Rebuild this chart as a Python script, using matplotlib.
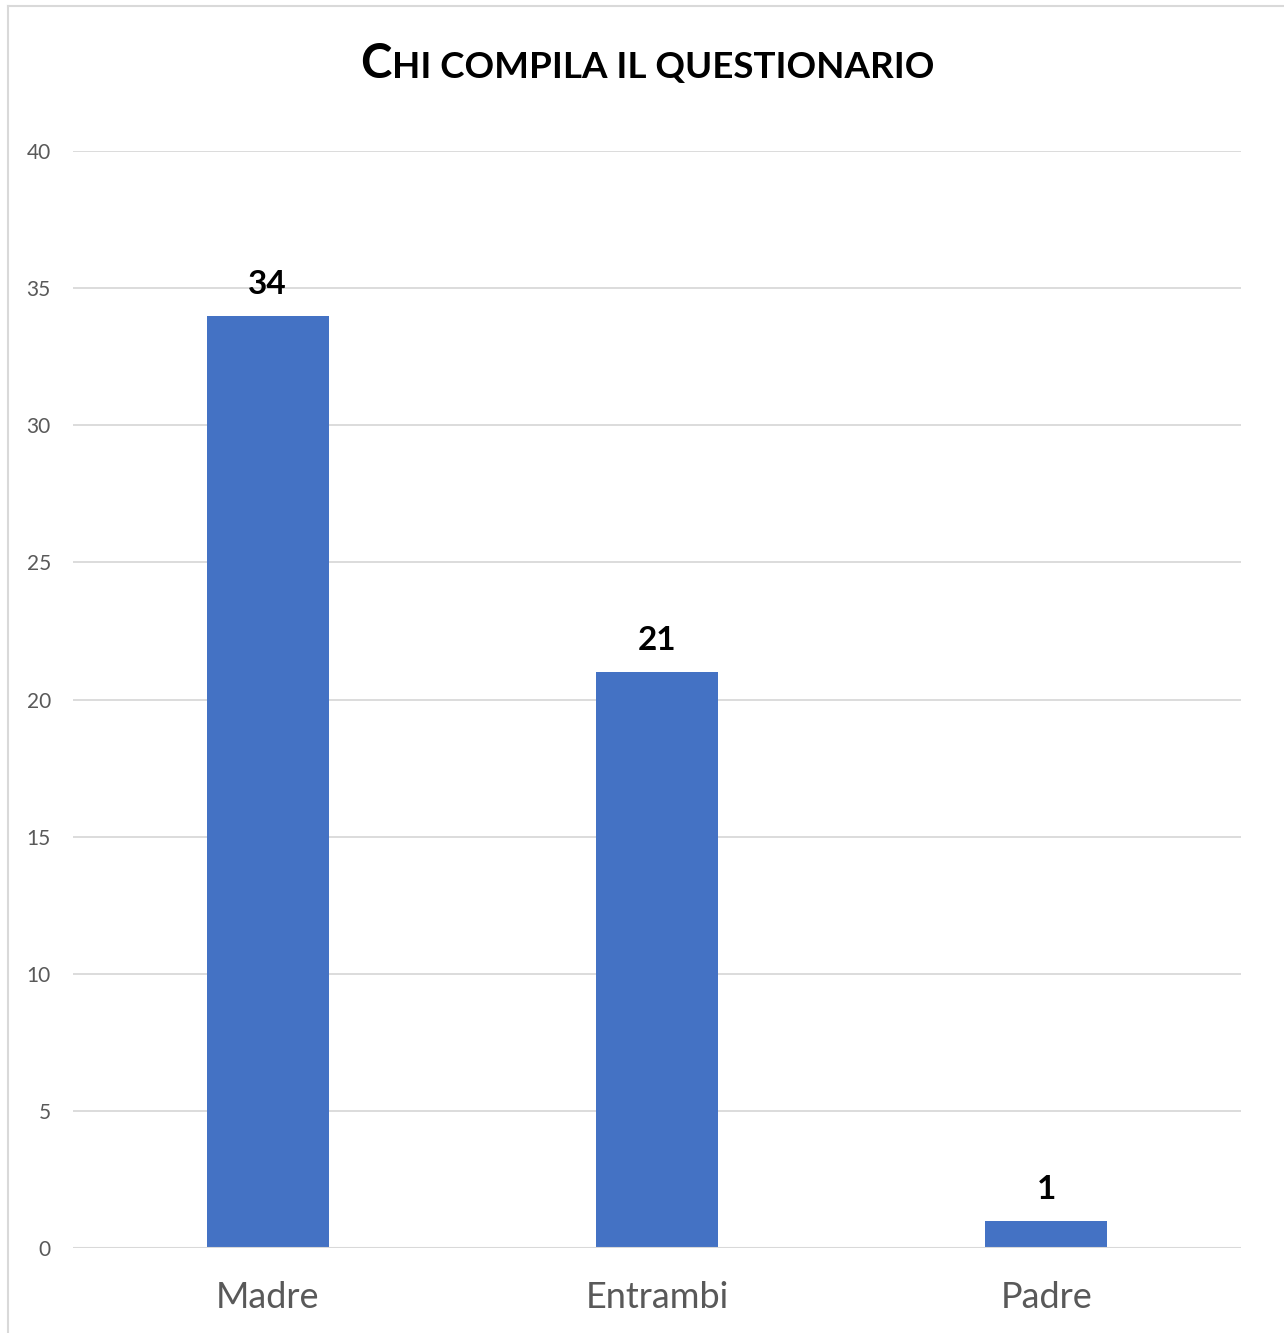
import matplotlib
matplotlib.use("Agg")
import matplotlib.pyplot as plt
from matplotlib.lines import Line2D

categories = ["Madre", "Entrambi", "Padre"]
counts = [34, 21, 1]
y_ticks = [0, 5, 10, 15, 20, 25, 30, 35, 40]

W, H = 1284, 1333
fig = plt.figure(figsize=(W / 100, H / 100), dpi=100)
plt.rcParams['font.family'] = ['Lato', 'DejaVu Sans']

# axes placed in pixel coordinates
left, right, bottom, top = 73, 1241, 1248, 151
ax = fig.add_axes([left / W, 1 - bottom / H, (right - left) / W, (bottom - top) / H])

bar_color = "#4472C4"
x = range(len(categories))
bars = ax.bar(x, counts, width=0.313, color=bar_color, zorder=3)

for xi, v in zip(x, counts):
    ax.annotate(str(v), (xi, v), xytext=(0, 12), textcoords="offset points",
                ha="center", va="bottom", fontsize=24, fontweight="bold", color="black")

ax.set_xlim(-0.5, 2.5)
ax.set_ylim(0, 40)
ax.set_yticks(y_ticks)
ax.set_yticklabels([str(t) for t in y_ticks], fontsize=15, color="#595959")
ax.set_xticks(list(x))
ax.set_xticklabels(categories, fontsize=26, color="#595959")
ax.tick_params(axis="y", length=0, pad=16)
ax.tick_params(axis="x", length=0, pad=24)
ax.grid(axis="y", color="#d9d9d9", linewidth=1.3, zorder=0)
for s in ax.spines.values():
    s.set_visible(False)
ax.axhline(0, color="#d9d9d9", linewidth=1.5, zorder=4)

# title with small caps: big "C" followed by smaller capitals
renderer = fig.canvas.get_renderer()
t1 = fig.text(0, 0, "C", fontsize=34, fontweight="bold", color="black")
t2 = fig.text(0, 0, "HI COMPILA IL QUESTIONARIO", fontsize=26.5, fontweight="bold", color="black")
w1 = t1.get_window_extent(renderer).width
w2 = t2.get_window_extent(renderer).width
cx, base_y = 647, 78
x0 = cx - (w1 + w2) / 2
t1.set_position((x0 / W, 1 - base_y / H))
t1.set_va("baseline")
t2.set_position(((x0 + w1) / W, 1 - base_y / H))
t2.set_va("baseline")

# chart area border (top and left edges)
border = "#d9d9d9"
fig.add_artist(Line2D([8 / W, 1], [1 - 6 / H, 1 - 6 / H], color=border, linewidth=1.5))
fig.add_artist(Line2D([8 / W, 8 / W], [0, 1 - 6 / H], color=border, linewidth=1.5))

fig.savefig("out.png", dpi=100, facecolor="white")
